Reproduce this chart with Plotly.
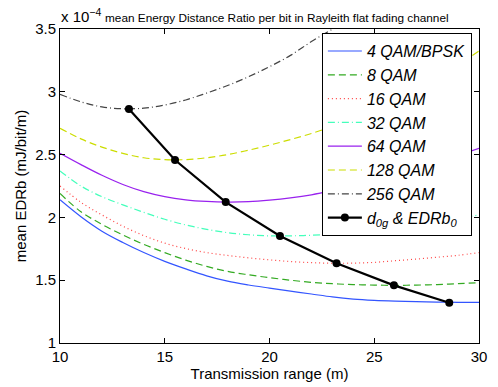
import plotly.graph_objects as go

# transmission range (m)
dist = [10, 11, 12, 13, 14, 15, 16, 17, 18, 19, 20, 21, 22, 23, 24, 25, 26, 27, 28, 29, 30]

# mean EDRb (x 1e-4 mJ/bit/m)
qam4 = [2.14, 2.005, 1.89, 1.80, 1.72, 1.65, 1.59, 1.535, 1.492, 1.462, 1.437, 1.413, 1.39, 1.367,
        1.35, 1.34, 1.334, 1.33, 1.326, 1.324, 1.324]
qam8 = [2.19, 2.045, 1.945, 1.86, 1.785, 1.72, 1.66, 1.61, 1.57, 1.543, 1.52, 1.50, 1.483, 1.472,
        1.465, 1.461, 1.459, 1.461, 1.465, 1.472, 1.48]
qam16 = [2.25, 2.12, 2.02, 1.93, 1.855, 1.795, 1.752, 1.72, 1.697, 1.678, 1.662, 1.649, 1.64, 1.635,
         1.636, 1.642, 1.655, 1.668, 1.683, 1.698, 1.72]
qam32 = [2.37, 2.25, 2.165, 2.10, 2.04, 1.985, 1.94, 1.905, 1.878, 1.862, 1.853, 1.853, 1.858, 1.866,
         1.878, 1.895, 1.917, 1.94, 1.965, 1.99, 2.02]
qam64 = [2.51, 2.42, 2.335, 2.262, 2.205, 2.165, 2.14, 2.127, 2.122, 2.125, 2.137, 2.155, 2.18, 2.215,
         2.255, 2.30, 2.345, 2.395, 2.445, 2.495, 2.55]
qam128 = [2.71, 2.625, 2.56, 2.51, 2.475, 2.46, 2.46, 2.475, 2.50, 2.535, 2.575, 2.62, 2.668, 2.725,
          2.79, 2.86, 2.935, 3.015, 3.11, 3.215, 3.325]
qam256 = [2.98, 2.92, 2.88, 2.865, 2.87, 2.895, 2.935, 2.99, 3.05, 3.12, 3.20, 3.29, 3.40, 3.50,
          3.62, 3.75, 3.89, 4.04, 4.20, 4.37, 4.55]

# optimal distance d0g and EDRb0
d0g = [13.29, 15.49, 17.91, 20.50, 23.20, 25.94, 28.58]
edrb0 = [2.863, 2.457, 2.122, 1.852, 1.635, 1.459, 1.321]

series = [
    ("4 QAM/BPSK", qam4, "#3355ff", "solid"),
    ("8 QAM", qam8, "#33aa22", "7px,4px"),
    ("16 QAM", qam16, "#ff4444", "1px,3px"),
    ("32 QAM", qam32, "#44ffbb", "7px,3px,1px,3px"),
    ("64 QAM", qam64, "#9922ee", "solid"),
    ("128 QAM", qam128, "#ccdd00", "7px,4px"),
    ("256 QAM", qam256, "#444444", "7px,3px,1px,3px"),
]

fig = go.Figure()
for name, vals, col, dash in series:
    fig.add_trace(go.Scatter(x=dist, y=vals, mode="lines", name=name,
                             line=dict(color=col, width=1.2, dash=dash, shape="spline")))

fig.add_trace(go.Scatter(x=d0g, y=edrb0, mode="lines+markers",
                         name="d<sub>0g</sub> & EDRb<sub>0</sub>",
                         line=dict(color="black", width=2.2),
                         marker=dict(color="black", size=8)))

axis_style = dict(showline=True, linecolor="black", linewidth=1, mirror="ticks",
                  ticks="inside", ticklen=5, tickcolor="black", showgrid=False,
                  zeroline=False, tickfont=dict(size=15, color="black"))

fig.update_layout(
    width=498, height=387,
    margin=dict(l=60, r=19, t=29, b=44),
    paper_bgcolor="white", plot_bgcolor="white",
    font=dict(family="Liberation Sans, Arial, sans-serif", color="black"),
    xaxis=dict(range=[10, 30], tickvals=[10, 15, 20, 25, 30],
               title=dict(text="Transmission range (m)", font=dict(size=15), standoff=0),
               **axis_style),
    yaxis=dict(range=[1, 3.5], tickvals=[1, 1.5, 2, 2.5, 3, 3.5],
               title=dict(text="mean EDRb (mJ/bit/m)", font=dict(size=15), standoff=4),
               **axis_style),
    legend=dict(x=0.625, y=0.987, xanchor="left", yanchor="top",
                bgcolor="white", bordercolor="black", borderwidth=1,
                font=dict(size=16, style="italic", color="black"),
                itemwidth=34, tracegroupgap=0),
    showlegend=True,
)

fig.add_annotation(xref="paper", yref="paper", x=-0.003, y=1.0, yshift=2,
                   xanchor="left", yanchor="bottom", showarrow=False,
                   text="x 10<sup>\u22124</sup>", font=dict(size=15, color="black"))
fig.add_annotation(xref="paper", yref="paper", x=0.103, y=1.0, yshift=2,
                   xanchor="left", yanchor="bottom", showarrow=False,
                   text="mean Energy Distance Ratio per bit in Rayleith flat fading channel",
                   font=dict(size=11.8, color="black"))

fig.write_html("out.html", config={"displayModeBar": False},
               post_script="document.body.style.margin='0';")
